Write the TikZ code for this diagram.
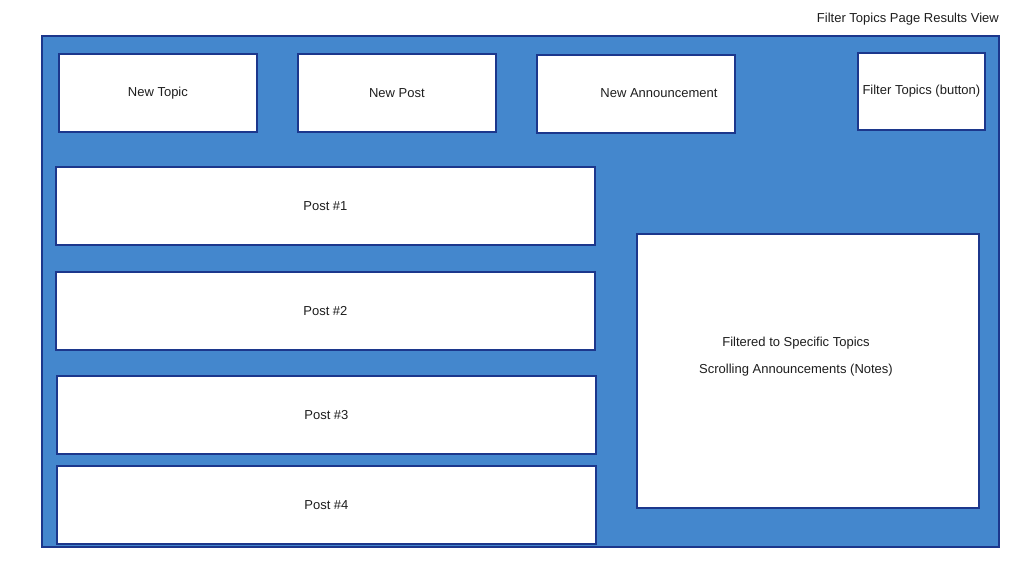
\documentclass[tikz,border=0pt]{standalone}
\usepackage{fontspec}
\setmainfont{Liberation Sans}
\definecolor{panelblue}{RGB}{68,135,205}
\definecolor{edgeblue}{RGB}{28,55,140}
\definecolor{txt}{RGB}{30,30,30}
\begin{document}
\begin{tikzpicture}[x=1pt,y=-1pt,
  box/.style={draw=edgeblue,line width=1.8pt,fill=white,inner sep=0pt,anchor=north west,text=txt,font=\fontsize{13}{15}\selectfont},
  lbl/.style={text=txt,font=\fontsize{13}{15}\selectfont,inner sep=0pt}]
\useasboundingbox (0,0) rectangle (1036,563);
\fill[white] (0,0) rectangle (1036,563);
\node[draw=edgeblue,line width=1.8pt,fill=panelblue,anchor=north west,minimum width=957pt,minimum height=511pt,inner sep=0pt] (panel) at (41,35) {};
\node[lbl,anchor=east] (title) at (999,19) {Filter Topics Page Results View};
\node[box,minimum width=198pt,minimum height=78pt] (topic) at (58,53) {New Topic};
\node[box,minimum width=198pt,minimum height=78pt] (post) at (297,53) {New Post};
\node[box,minimum width=198pt,minimum height=78pt] (ann) at (536,54) {};
\node[lbl] (anntxt) at (659,93) {New Announcement};
\node[box,minimum width=127pt,minimum height=77pt] (filter) at (857,52) {Filter Topics (button)};
\node[box,minimum width=539pt,minimum height=78pt] (p1) at (55,166) {Post \#1};
\node[box,minimum width=539pt,minimum height=78pt] (p2) at (55,271) {Post \#2};
\node[box,minimum width=539pt,minimum height=78pt] (p3) at (56,375) {Post \#3};
\node[box,minimum width=539pt,minimum height=78pt] (p4) at (56,465) {Post \#4};
\node[box,minimum width=342pt,minimum height=274pt] (notes) at (636,233) {};
\node[lbl] (n1) at (796,343) {Filtered to Specific Topics};
\node[lbl] (n2) at (796,370) {Scrolling Announcements (Notes)};
\end{tikzpicture}
\end{document}
